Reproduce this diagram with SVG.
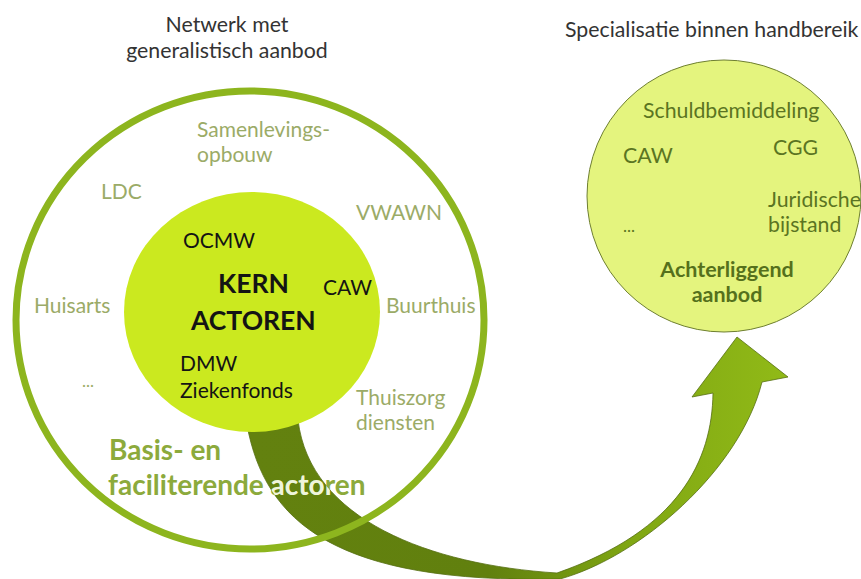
<svg xmlns="http://www.w3.org/2000/svg" width="861" height="579" viewBox="0 0 861 579">
<style>
text{font-family:Lato,"Liberation Sans",sans-serif}
.head{font-size:21.3px;fill:#333333}
.ring{font-size:21px;fill:#9bab67}
.kern{font-size:21px;fill:#141414}
.kernb{font-size:26.5px;font-weight:bold;fill:#141414}
.basis{font-size:28px;font-weight:bold;fill:#8caa3c}
.spec{font-size:21.3px;fill:#5b7422}
.specb{font-size:21.5px;font-weight:bold;fill:#55701c}
</style>
<defs>
<linearGradient id="arrowGrad" gradientUnits="userSpaceOnUse" x1="250" y1="0" x2="780" y2="0">
<stop offset="0" stop-color="#63810f"/>
<stop offset="0.45" stop-color="#61800e"/>
<stop offset="0.72" stop-color="#80a713"/>
<stop offset="1" stop-color="#90b917"/>
</linearGradient>
<path id="arrowShape" d="M247,425 C265,522 335,584 560,579 C640,557 740,470 762,382 L788,377 L737,337 L692,397 L713,393 C712,460 680,530 557,573 C430,565 310,520 298,420 Z"/>
<clipPath id="arrowClip"><use href="#arrowShape"/></clipPath>
</defs>
<rect width="861" height="579" fill="#ffffff"/>
<g id="headings">
<text class="head" x="227" y="32" text-anchor="middle">Netwerk met</text>
<text class="head" x="227" y="58" text-anchor="middle">generalistisch aanbod</text>
<text class="head" x="565" y="37">Specialisatie binnen handbereik</text>
</g>
<g id="connectors">
<use href="#arrowShape" fill="url(#arrowGrad)" stroke="#556f12" stroke-width="0.8"/>
</g>
<g id="basis-actoren">
<ellipse cx="250" cy="320" rx="234" ry="229" fill="none" stroke="#8db51e" stroke-width="7"/>
<text class="ring" x="197" y="137">Samenlevings-</text>
<text class="ring" x="197" y="162">opbouw</text>
<text class="ring" x="101" y="199">LDC</text>
<text class="ring" x="356" y="220">VWAWN</text>
<text class="ring" x="34" y="313">Huisarts</text>
<text class="ring" x="386" y="313">Buurthuis</text>
<text class="ring" x="82" y="387" style="font-size:17px">...</text>
<text class="ring" x="356" y="405">Thuiszorg</text>
<text class="ring" x="356" y="430">diensten</text>
<text class="basis" x="109" y="460">Basis- en</text>
<text class="basis" x="108" y="495">faciliterende actoren</text>
<text class="basis" x="108" y="495" clip-path="url(#arrowClip)" style="fill:#eef4dc">faciliterende actoren</text>
</g>
<g id="kern-actoren">
<ellipse cx="252" cy="312" rx="128" ry="120" fill="#cbe91f"/>
<text class="kern" x="183" y="248">OCMW</text>
<text class="kernb" x="218" y="293">KERN</text>
<text class="kern" x="323" y="295">CAW</text>
<text class="kernb" x="191" y="330">ACTOREN</text>
<text class="kern" x="180" y="371">DMW</text>
<text class="kern" x="180" y="398">Ziekenfonds</text>
</g>
<g id="achterliggend-aanbod">
<ellipse cx="724" cy="196" rx="137" ry="136" fill="#e4f47e" stroke="#6e7f30" stroke-width="1"/>
<text class="spec" x="643" y="118">Schuldbemiddeling</text>
<text class="spec" x="623" y="163">CAW</text>
<text class="spec" x="773" y="155">CGG</text>
<text class="spec" x="768" y="207">Juridische</text>
<text class="spec" x="768" y="232">bijstand</text>
<text class="spec" x="623" y="232" style="font-size:17px">...</text>
<text class="specb" x="727" y="277" text-anchor="middle">Achterliggend</text>
<text class="specb" x="727" y="302" text-anchor="middle">aanbod</text>
</g>
</svg>
